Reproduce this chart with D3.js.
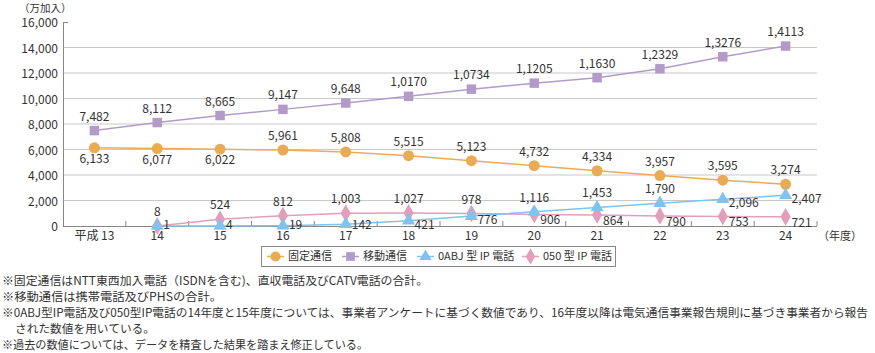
<!DOCTYPE html>
<html>
<head>
<meta charset="utf-8">
<script src="https://cdn.jsdelivr.net/npm/d3@7"></script>
<style>
  body { margin: 0; background: #fff; }
  text { font-family: "Noto Sans CJK JP", "Noto Sans", sans-serif; fill: #333; }
</style>
</head>
<body>
<script>
// data
const years = ["平成 13", "14", "15", "16", "17", "18", "19", "20", "21", "22", "23", "24"];
const fixedLine = [6133, 6077, 6022, 5961, 5808, 5515, 5123, 4732, 4334, 3957, 3595, 3274];
const mobile = [7482, 8112, 8665, 9147, 9648, 10170, 10734, 11205, 11630, 12329, 13276, 14113];
const ip0abj = [null, 1, 4, 19, 142, 421, 776, 1116, 1453, 1790, 2096, 2407];
const ip050 = [null, 8, 524, 812, 1003, 1027, 978, 906, 864, 790, 753, 721];
const yTicks = [0, 2000, 4000, 6000, 8000, 10000, 12000, 14000, 16000];
const legendNames = ["固定通信", "移動通信", "0ABJ 型 IP 電話", "050 型 IP 電話"];
const notes = [
  "※固定通信はNTT東西加入電話（ISDNを含む)、直収電話及びCATV電話の合計。",
  "※移動通信は携帯電話及びPHSの合計。",
  "※0ABJ型IP電話及び050型IP電話の14年度と15年度については、事業者アンケートに基づく数値であり、16年度以降は電気通信事業報告規則に基づき事業者から報告",
  "された数値を用いている。",
  "※過去の数値については、データを精査した結果を踏まえ修正している。"
];

const width = 875, height = 353;
const svg = d3.select("body").append("svg")
    .attr("width", width)
    .attr("height", height);

const x = d3.scaleBand().domain(years).range([63, 817]);
const y = d3.scaleLinear().domain([0, 16000]).range([226, 22]);
const cx = d => x(d) + x.bandwidth() / 2;

// odd label style of the source: 1,0170 etc.
function fmt(v) {
  if (v < 10000) return d3.format(",")(v);
  return Math.floor(v / 10000) + "," + String(v % 10000).padStart(4, "0");
}

// gridlines
svg.append("g").selectAll("line")
  .data(yTicks.filter(t => t > 0 && t < 16000))
  .enter().append("line")
  .attr("x1", 63).attr("x2", 817)
  .attr("y1", d => y(d)).attr("y2", d => y(d))
  .style("stroke", "#c8c8c8").style("stroke-width", 1);

// axes
svg.append("line").attr("x1", 63.5).attr("x2", 63.5).attr("y1", y(16000)).attr("y2", y(0))
  .style("stroke", "#888");
svg.append("line").attr("x1", 63).attr("x2", 68).attr("y1", y(16000) + 0.5).attr("y2", y(16000) + 0.5)
  .style("stroke", "#888");
svg.append("line").attr("x1", 63).attr("x2", 817).attr("y1", y(0) + 0.5).attr("y2", y(0) + 0.5)
  .style("stroke", "#888");
svg.append("g").selectAll("line")
  .data(years)
  .enter().append("line")
  .attr("x1", d => x(d) + x.bandwidth()).attr("x2", d => x(d) + x.bandwidth())
  .attr("y1", y(0)).attr("y2", y(0) - 5)
  .style("stroke", "#888");

svg.append("g").selectAll("text")
  .data(yTicks)
  .enter().append("text")
  .attr("x", 58).attr("y", d => y(d) + 1)
  .attr("dy", "0.35em")
  .attr("text-anchor", "end")
  .style("font-size", "12px")
  .text(d => d3.format(",")(d));

svg.append("g").selectAll("text")
  .data(years)
  .enter().append("text")
  .attr("x", d => cx(d)).attr("y", 240)
  .attr("text-anchor", "middle")
  .style("font-size", "12px")
  .text(d => d);

svg.append("text").attr("x", 19).attr("y", 12).style("font-size", "10.5px").text("（万加入）");
svg.append("text").attr("x", 818).attr("y", 240).style("font-size", "11px").text("（年度）");

// series
const series = [
  { name: legendNames[0], values: fixedLine, color: "#e9ac55", shape: d3.symbolCircle, size: 95,
    place: i => i < 3 ? "below" : "above", dy: 8 },
  { name: legendNames[1], values: mobile, color: "#b39bc9", shape: d3.symbolSquare, size: 90,
    place: i => "above", dy: 8 },
  { name: legendNames[3], values: ip050, color: "#e19fbc", shape: d3.symbolDiamond, size: 90,
    place: i => i <= 6 ? "above" : "right", dy: 10 },
  { name: legendNames[2], values: ip0abj, color: "#7fc3ef", shape: d3.symbolTriangle, size: 75,
    place: i => (i >= 7 && i <= 9) ? "above" : "right", dy: 8 }
];

const line = d3.line()
  .defined(d => d.v != null)
  .x(d => cx(d.year))
  .y(d => y(d.v));

series.forEach(function(s) {
  const pts = years.map((yr, i) => ({ year: yr, v: s.values[i], i: i })).filter(d => d.v != null);
  svg.append("path")
    .datum(pts)
    .attr("d", line)
    .style("fill", "none")
    .style("stroke", s.color)
    .style("stroke-width", 1.5);
  s.pts = pts;
});

series.forEach(function(s) {
  svg.append("g").selectAll("path")
    .data(s.pts)
    .enter().append("path")
    .attr("transform", d => "translate(" + cx(d.year) + "," + y(d.v) + ")")
    .attr("d", d3.symbol().type(s.shape).size(s.size))
    .style("fill", s.color);
});

series.forEach(function(s) {
  svg.append("g").selectAll("text")
    .data(s.pts)
    .enter().append("text")
    .attr("x", d => s.place(d.i) === "right" ? cx(d.year) + 6 : cx(d.year))
    .attr("y", d => {
      const p = s.place(d.i);
      if (p === "above") return y(d.v) - 10;
      if (p === "below") return y(d.v) + 15;
      return Math.min(y(d.v) + s.dy, 229);
    })
    .attr("text-anchor", d => s.place(d.i) === "right" ? "start" : "middle")
    .style("font-size", "12px")
    .text(d => fmt(d.v));
});

// legend
const lg = svg.append("g");
lg.append("rect").attr("x", 261.5).attr("y", 246.5).attr("width", 354).attr("height", 20)
  .style("fill", "#fff").style("stroke", "#888");
const legendX = [267, 342, 417, 522];
const legendOrder = [series[0], series[1], series[3], series[2]];
legendOrder.forEach(function(s, k) {
  const lx = legendX[k];
  lg.append("line").attr("x1", lx).attr("x2", lx + 17).attr("y1", 256.5).attr("y2", 256.5)
    .style("stroke", s.color).style("stroke-width", 1.5);
  lg.append("path")
    .attr("transform", "translate(" + (lx + 8.5) + ",256.5)")
    .attr("d", d3.symbol().type(s.shape).size(s.size * 0.85))
    .style("fill", s.color);
  lg.append("text").attr("x", lx + 21).attr("y", 256.5).attr("dy", "0.35em")
    .style("font-size", "11px").text(s.name);
});

// notes
const noteY = [281, 297, 313, 329, 345];
const noteX = [2, 2, 2, 15, 2];
const noteW = [426, 220, 866, 140, 366];
svg.append("g").selectAll("text")
  .data(notes)
  .enter().append("text")
  .attr("x", (d, i) => noteX[i])
  .attr("y", (d, i) => noteY[i])
  .attr("dy", "0.35em")
  .attr("textLength", (d, i) => noteW[i])
  .attr("lengthAdjust", "spacingAndGlyphs")
  .style("font-size", "11.5px")
  .text(d => d);
</script>
</body>
</html>
